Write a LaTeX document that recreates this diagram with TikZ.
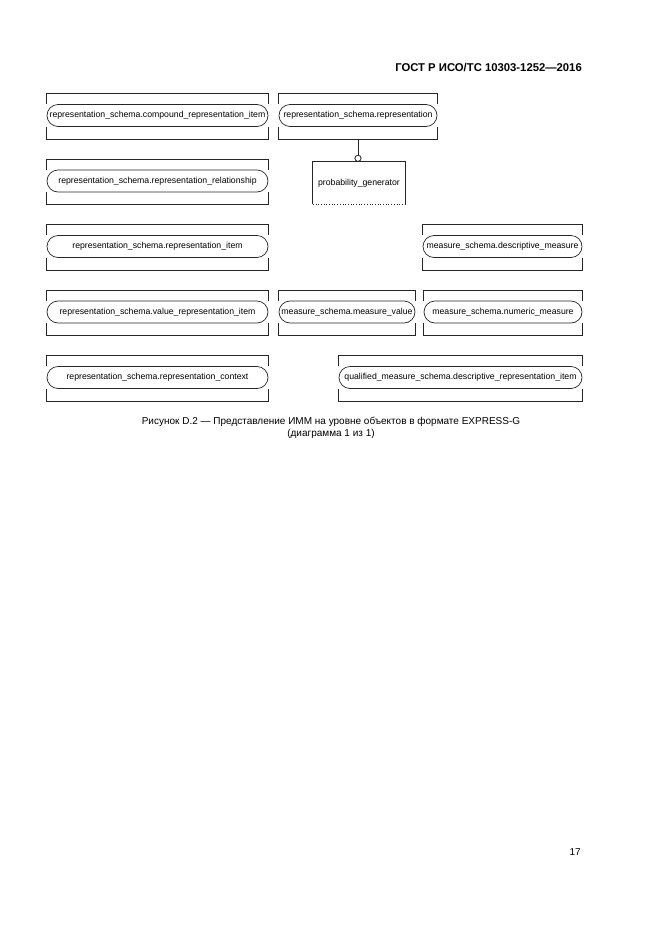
\documentclass[tikz,border=0pt]{standalone}
\usepackage{fontspec}
\setmainfont{Liberation Sans}
\usetikzlibrary{arrows.meta}
\newcommand\entbox[5]{%
  \node[boxarea, minimum width=#4pt] (#1) at (#2,#3) {};
  \node[pill, minimum width=#4pt] (#1p) at (#2,#3-1) {#5};
  \draw[boxline] (#1.west |- #1p.north) -- (#1.north west) -- (#1.north east) -- (#1.east |- #1p.north);
  \draw[boxline] (#1.west |- #1p.south) -- (#1.south west) -- (#1.south east) -- (#1.east |- #1p.south);
}
\begin{document}
\begin{tikzpicture}[x=1pt,y=-1pt,
  lc/.style={black!85},
  boxline/.style={draw=black!85, line width=0.7pt},
  boxarea/.style={rectangle, inner sep=0pt, minimum height=45pt},
  pill/.style={rectangle, draw=black!85, line width=0.7pt, rounded corners=11pt,
    inner sep=0pt, minimum height=22pt, font=\fontsize{8.7}{10}\selectfont},
  rel/.style={draw=black!85, line width=0.8pt, -{Circle[open,length=7pt,width=7pt]}},
  txt/.style={inner sep=0pt, text=black}
]
\useasboundingbox (0,0) rectangle (661,935);
\fill[white] (0,0) rectangle (661,935);

\node[txt, anchor=east, font=\fontsize{11.3}{13}\selectfont\bfseries] (hdr) at (582,68) {ГОСТ Р ИСО/ТС 10303-1252—2016};

\entbox{A}{157.5}{116.5}{221}{representation\_schema.compound\_representation\_item}
\entbox{B}{358}{116.5}{158}{representation\_schema.representation}
\entbox{C}{157.5}{182}{221}{representation\_schema.representation\_relationship}
\entbox{D}{157.5}{247.5}{221}{representation\_schema.representation\_item}
\entbox{E}{502.5}{247.5}{159}{measure\_schema.descriptive\_measure}
\entbox{F}{157.5}{313}{221}{representation\_schema.value\_representation\_item}
\entbox{G}{347}{313}{136}{measure\_schema.measure\_value}
\entbox{H}{503}{313}{158}{measure\_schema.numeric\_measure}
\entbox{I}{157.5}{378.5}{221}{representation\_schema.representation\_context}
\entbox{J}{460.5}{378.5}{243}{qualified\_measure\_schema.descriptive\_representation\_item}

\node[rectangle, inner sep=0pt, minimum width=92pt, minimum height=42pt,
  font=\fontsize{8.7}{10}\selectfont] (P) at (359,183) {probability\_generator};
\draw[boxline] (P.south west) -- (P.north west) -- (P.north east) -- (P.south east);
\draw[draw=black!85, line width=0.7pt, dotted] (P.south west) -- (P.south east);

\draw[rel] (B.south) -- (B.south |- P.north);

\node[txt, align=center, font=\fontsize{10}{12}\selectfont] (cap) at (331,428)
  {Рисунок D.2 — Представление ИММ на уровне объектов в формате EXPRESS-G\\(диаграмма 1 из 1)};

\node[txt, anchor=east, font=\fontsize{10}{12}\selectfont] (pg) at (581,852) {17};
\end{tikzpicture}
\end{document}
